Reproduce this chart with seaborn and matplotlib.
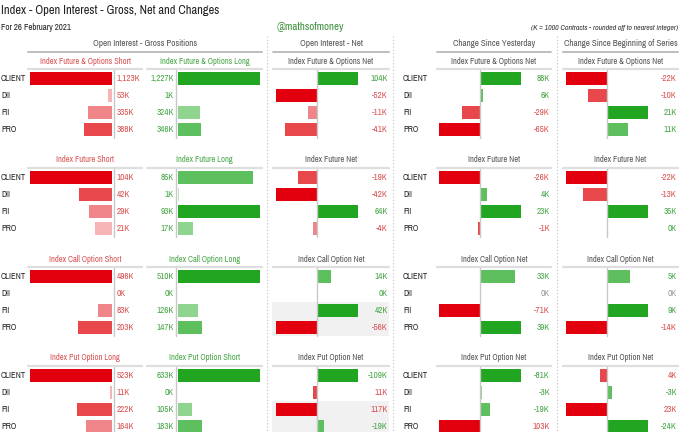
import numpy as np
import pandas as pd
import matplotlib
matplotlib.use("Agg")
import matplotlib.pyplot as plt
import seaborn as sns
from matplotlib import font_manager as fm
from matplotlib.lines import Line2D

# ---------------- data ----------------
categories = ["CLIENT", "DII", "FII", "PRO"]
short_titles = ["Index Future & Options Short", "Index Future Short",
                "Index Call Option Short", "Index Put Option Long"]
long_titles = ["Index Future & Options Long", "Index Future Long",
               "Index Call Option Long", "Index Put Option Short"]
net_titles = ["Index Future & Options Net", "Index Future Net",
              "Index Call Option Net", "Index Put Option Net"]

short_fo = [1123, 53, 335, 388]
long_fo = [1227, 1, 324, 346]
short_fut = [104, 42, 29, 21]
long_fut = [85, 1, 93, 17]
short_call = [496, 0, 83, 203]
long_call = [510, 0, 126, 147]
put_long = [523, 11, 222, 164]
put_short = [633, 0, 105, 183]

net_fo = [104, -52, -11, -41]
net_fut = [-19, -42, 64, -4]
net_call = [14, 0.4, 42, -56]
net_put = [-109, 11, 117, -19]

chg_day_fo = [88, 6, -29, -65]
chg_day_fut = [-26, 4, 23, -1]
chg_day_call = [33, 0, -71, 39]
chg_day_put = [-81, -3, -19, 103]

chg_ser_fo = [-22, -10, 21, 11]
chg_ser_fut = [-22, -13, 35, 0.4]
chg_ser_call = [5, 0, 9, -14]
chg_ser_put = [4, -3, 23, -24]

short_sets = [short_fo, short_fut, short_call, put_long]
long_sets = [long_fo, long_fut, long_call, put_short]
net_sets = [net_fo, net_fut, net_call, net_put]
day_sets = [chg_day_fo, chg_day_fut, chg_day_call, chg_day_put]
ser_sets = [chg_ser_fo, chg_ser_fut, chg_ser_call, chg_ser_put]
bar_sign = [1, 1, 1, -1]   # put-option net is drawn inverted (bearish long puts)

# ---------------- style ----------------
sns.set_style("white")
ents = fm.fontManager.ttflist
names = {f.name for f in ents}
FONT = dict(family="DejaVu Sans")
narrow = [n for n in names if "Narrow" in n or "Condensed" in n]
if "Liberation Sans Narrow" in names:
    FONT = dict(family="Liberation Sans Narrow")
elif narrow:
    FONT = dict(family=sorted(narrow)[0])
elif any(f.name == "DejaVu Sans" and str(f.stretch) == "condensed" for f in ents):
    FONT = dict(family="DejaVu Sans", fontstretch="condensed")
plt.rcParams["font.family"] = [FONT["family"], "DejaVu Sans"]

REDS = ["#e3000e", "#e8474c", "#ef8589", "#f5b4b6"]
GREENS = ["#22a622", "#5ebf5e", "#8fd48f", "#bce6bc"]
RED_TXT = "#d95454"
GREEN_TXT = "#4aa64a"
GRAY_TXT = "#9a9a9a"
HEAD = "#555555"

W, H = 680, 432
fig = plt.figure(figsize=(W / 100, H / 100), dpi=100)


def rect(x, y, w, h):
    return [x / W, 1 - (y + h) / H, w / W, h / H]


def ptext(x, y, s, **kw):
    kw.setdefault("va", "center")
    kw.setdefault("fontstretch", FONT.get("fontstretch", "normal"))
    fig.text(x / W, 1 - y / H, s, **kw)


def pline(x0, y0, x1, y1, **kw):
    fig.add_artist(Line2D([x0 / W, x1 / W], [1 - y0 / H, 1 - y1 / H],
                          transform=fig.transFigure, **kw))


def rank_colors(vals, pal):
    order = sorted(range(len(vals)), key=lambda i: -abs(vals[i]))
    cols = [None] * len(vals)
    for rnk, i in enumerate(order):
        cols[i] = pal[min(rnk, len(pal) - 1)]
    return cols


def signed_colors(vals):
    cols = [None] * len(vals)
    pos = [i for i, v in enumerate(vals) if v > 0]
    neg = [i for i, v in enumerate(vals) if v <= 0]
    for idx, pal in ((pos, GREENS), (neg, REDS)):
        sub = rank_colors([vals[i] for i in idx], pal)
        for j, i in enumerate(idx):
            cols[i] = sub[j]
    return cols


def fmt(v):
    return f"{abs(round(v)):,}K" if round(v) == 0 else f"{round(v):,}K"


def bars(ax, vals, cols):
    df = pd.DataFrame({"cat": categories, "val": vals})
    sns.barplot(data=df, y="cat", x="val", hue="cat", orient="h",
                palette=dict(zip(categories, cols)), ax=ax, legend=False,
                width=0.76, saturation=1, linewidth=0)
    ax.set_ylim(3.5, -0.5)
    ax.axis("off")


ROW0, ROWH, GSTEP = 70, 17, 99
FS_VAL, FS_CAT, FS_HEAD, FS_SEC = 6.5, 6.2, 6.1, 6.5

# ---------------- headers ----------------
ptext(1, 10, "Index - Open Interest - Gross, Net and Changes", fontsize=9.0,
      color="#222222", ha="left")
ptext(1, 27, "For 26 February 2021", fontsize=6.4, color="#222222", ha="left")
ptext(310, 27, "@mathsofmoney", fontsize=7.8, color="#3d8f3d", ha="center",
      fontweight="bold")
ptext(678, 28, "(K = 1000 Contracts - rounded off to nearest integer)",
      fontsize=5.6, color="#333333", ha="right", style="italic")

sections = [("Open Interest - Gross Positions", 28, 262),
            ("Open Interest - Net", 273, 389),
            ("Change Since Yesterday", 437, 551),
            ("Change Since Beginning of Series", 563, 678)]
for s, x0, x1 in sections:
    ptext((x0 + x1) / 2, 44, s, fontsize=FS_SEC, color=HEAD, ha="center")
    pline(x0, 52, x1, 52, color="#bdbdbd", lw=1.4)

for x in (267, 393, 557):
    pline(x, 36, x, 432, color="#c0c0c0", lw=0.8, linestyle=(0, (1, 2)))

# ---------------- panels ----------------
for g in range(4):
    top = ROW0 + GSTEP * g
    hy = top - 9
    rows_y = [top + ROWH * (r + 0.5) for r in range(4)]

    # panel headers + underline
    for t, col, x0, x1 in ((short_titles[g], RED_TXT, 28, 142),
                           (long_titles[g], GREEN_TXT, 147, 262),
                           (net_titles[g], HEAD, 273, 389),
                           (net_titles[g], HEAD, 437, 551),
                           (net_titles[g], HEAD, 563, 678)):
        ptext((x0 + x1) / 2, hy, t, fontsize=FS_HEAD, color=col, ha="center")
        pline(x0, top - 1, x1, top - 1, color="#dedede", lw=1.6)

    # category labels
    for r, c in enumerate(categories):
        ptext(1, rows_y[r], c, fontsize=FS_CAT, color="#222222", ha="left",
              fontweight="bold")
        ptext(403, rows_y[r], c, fontsize=FS_CAT, color="#222222", ha="left",
              fontweight="bold")

    # gross short (bars grow leftward)
    sv = short_sets[g]
    ax = fig.add_axes(rect(30, top, 82, 4 * ROWH))
    bars(ax, sv, rank_colors(sv, REDS))
    ax.set_xlim(max(sv), 0)
    pline(114, top, 114, top + 4 * ROWH, color="#c8c8c8", lw=1)
    for r, v in enumerate(sv):
        ptext(117, rows_y[r], fmt(v), fontsize=FS_VAL, color=RED_TXT, ha="left")

    # gross long
    lv = long_sets[g]
    ax = fig.add_axes(rect(178, top, 82, 4 * ROWH))
    bars(ax, lv, rank_colors(lv, GREENS))
    ax.set_xlim(0, max(lv))
    pline(176, top, 176, top + 4 * ROWH, color="#c8c8c8", lw=1)
    for r, v in enumerate(lv):
        ptext(174, rows_y[r], fmt(v), fontsize=FS_VAL, color=GREEN_TXT, ha="right")

    # signed panels: net, change since yesterday, change since series start
    for vals, x0, zero, x1, band in ((net_sets[g], 272, 317, 389, g >= 2),
                                     (day_sets[g], 437, 480, 551, False),
                                     (ser_sets[g], 563, 607, 678, False)):
        disp = [bar_sign[g] * v for v in vals]
        pmax = max([v for v in disp if v > 0] or [1])
        nmax = max([-v for v in disp if v < 0] or [1])
        norm = [v / pmax if v > 0 else v / nmax for v in disp]
        ax = fig.add_axes(rect(x0, top, x1 - x0, 4 * ROWH))
        if band:
            ax.axhspan(1.5, 3.5, color="#f1f1f1", zorder=0, lw=0)
        bars(ax, norm, signed_colors(disp))
        half = 41.0
        ax.set_xlim((x0 - zero) / half, (x1 - zero) / half)
        pline(zero, top, zero, top + 4 * ROWH, color="#c8c8c8", lw=1)
        for r, v in enumerate(vals):
            d = disp[r]
            col = GREEN_TXT if round(d, 3) > 0 else (RED_TXT if d < 0 else GRAY_TXT)
            ptext(x1 - 1, rows_y[r], fmt(v), fontsize=FS_VAL, color=col, ha="right")

fig.savefig("out.png", dpi=100)
